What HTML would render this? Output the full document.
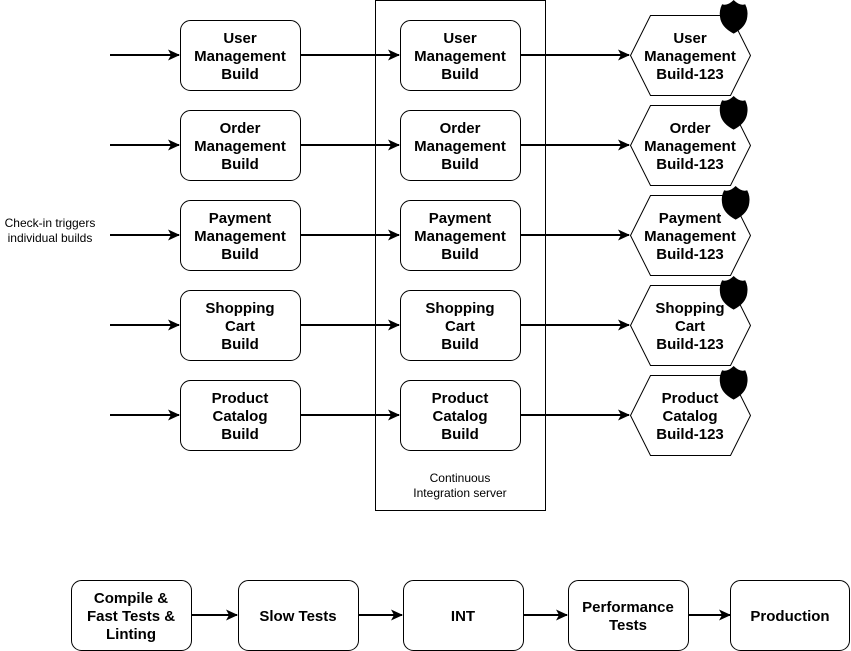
<!DOCTYPE html>
<html><head><meta charset="utf-8"><style>
body{margin:0;background:#fff}
svg{display:block}
text{font-family:"Liberation Sans",Arial,sans-serif}
.b{font-size:15px;font-weight:bold;text-anchor:middle}
.s{font-size:12px;text-anchor:middle}
</style></head><body>
<svg width="851" height="651" viewBox="0 0 851 651">
<defs><marker id="a" markerWidth="12" markerHeight="12" refX="11" refY="6" orient="auto" markerUnits="userSpaceOnUse"><path d="M0,0.5 L12,6 L0,11.5 L3,6 Z" fill="#000"/></marker>
<g id="sh"><path d="M2,4 Q7,6 13,0 Q19,6 24,4 Q27,10 26,16 Q25,26 13,32 Q1,26 0,16 Q-1,10 2,4Z" fill="#000" transform="scale(1.05)"/></g></defs>
<rect x="375.5" y="0.5" width="170" height="510" fill="none" stroke="#000"/>
<text class="s" x="460" y="482">Continuous</text>
<text class="s" x="460" y="497">Integration server</text>
<text class="s" x="50" y="227">Check-in triggers</text>
<text class="s" x="50" y="242">individual builds</text>
<g stroke="#000" stroke-width="2" fill="none">
<line x1="110" y1="55" x2="179" y2="55" marker-end="url(#a)"/><line x1="300" y1="55" x2="399" y2="55" marker-end="url(#a)"/><line x1="520" y1="55" x2="629" y2="55" marker-end="url(#a)"/>
<line x1="110" y1="145" x2="179" y2="145" marker-end="url(#a)"/><line x1="300" y1="145" x2="399" y2="145" marker-end="url(#a)"/><line x1="520" y1="145" x2="629" y2="145" marker-end="url(#a)"/>
<line x1="110" y1="235" x2="179" y2="235" marker-end="url(#a)"/><line x1="300" y1="235" x2="399" y2="235" marker-end="url(#a)"/><line x1="520" y1="235" x2="629" y2="235" marker-end="url(#a)"/>
<line x1="110" y1="325" x2="179" y2="325" marker-end="url(#a)"/><line x1="300" y1="325" x2="399" y2="325" marker-end="url(#a)"/><line x1="520" y1="325" x2="629" y2="325" marker-end="url(#a)"/>
<line x1="110" y1="415" x2="179" y2="415" marker-end="url(#a)"/><line x1="300" y1="415" x2="399" y2="415" marker-end="url(#a)"/><line x1="520" y1="415" x2="629" y2="415" marker-end="url(#a)"/>
<line x1="191" y1="615" x2="237" y2="615" marker-end="url(#a)"/><line x1="358" y1="615" x2="402" y2="615" marker-end="url(#a)"/><line x1="523" y1="615" x2="567" y2="615" marker-end="url(#a)"/><line x1="688" y1="615" x2="730" y2="615" marker-end="url(#a)"/>
</g>
<g fill="#fff" stroke="#000" stroke-width="1">
<rect x="180.5" y="20.5" width="120" height="70" rx="10"/><rect x="400.5" y="20.5" width="120" height="70" rx="10"/>
<rect x="180.5" y="110.5" width="120" height="70" rx="10"/><rect x="400.5" y="110.5" width="120" height="70" rx="10"/>
<rect x="180.5" y="200.5" width="120" height="70" rx="10"/><rect x="400.5" y="200.5" width="120" height="70" rx="10"/>
<rect x="180.5" y="290.5" width="120" height="70" rx="10"/><rect x="400.5" y="290.5" width="120" height="70" rx="10"/>
<rect x="180.5" y="380.5" width="120" height="70" rx="10"/><rect x="400.5" y="380.5" width="120" height="70" rx="10"/>
<path d="M630.5,55.5 L650.5,15.5 L730.5,15.5 L750.5,55.5 L730.5,95.5 L650.5,95.5Z"/>
<path d="M630.5,145.5 L650.5,105.5 L730.5,105.5 L750.5,145.5 L730.5,185.5 L650.5,185.5Z"/>
<path d="M630.5,235.5 L650.5,195.5 L730.5,195.5 L750.5,235.5 L730.5,275.5 L650.5,275.5Z"/>
<path d="M630.5,325.5 L650.5,285.5 L730.5,285.5 L750.5,325.5 L730.5,365.5 L650.5,365.5Z"/>
<path d="M630.5,415.5 L650.5,375.5 L730.5,375.5 L750.5,415.5 L730.5,455.5 L650.5,455.5Z"/>
<rect x="71.5" y="580.5" width="120" height="70" rx="10"/><rect x="238.5" y="580.5" width="120" height="70" rx="10"/><rect x="403.5" y="580.5" width="120" height="70" rx="10"/><rect x="568.5" y="580.5" width="120" height="70" rx="10"/><rect x="730.5" y="580.5" width="119" height="70" rx="10"/>
</g>
<use href="#sh" x="720" y="0"/><use href="#sh" x="720" y="96"/><use href="#sh" x="722" y="186"/><use href="#sh" x="720" y="276"/><use href="#sh" x="720" y="366"/>
<g>
<text class="b" x="240" y="43">User</text><text class="b" x="240" y="61">Management</text><text class="b" x="240" y="79">Build</text>
<text class="b" x="460" y="43">User</text><text class="b" x="460" y="61">Management</text><text class="b" x="460" y="79">Build</text>
<text class="b" x="690" y="43">User</text><text class="b" x="690" y="61">Management</text><text class="b" x="690" y="79">Build-123</text>
<text class="b" x="240" y="133">Order</text><text class="b" x="240" y="151">Management</text><text class="b" x="240" y="169">Build</text>
<text class="b" x="460" y="133">Order</text><text class="b" x="460" y="151">Management</text><text class="b" x="460" y="169">Build</text>
<text class="b" x="690" y="133">Order</text><text class="b" x="690" y="151">Management</text><text class="b" x="690" y="169">Build-123</text>
<text class="b" x="240" y="223">Payment</text><text class="b" x="240" y="241">Management</text><text class="b" x="240" y="259">Build</text>
<text class="b" x="460" y="223">Payment</text><text class="b" x="460" y="241">Management</text><text class="b" x="460" y="259">Build</text>
<text class="b" x="690" y="223">Payment</text><text class="b" x="690" y="241">Management</text><text class="b" x="690" y="259">Build-123</text>
<text class="b" x="240" y="313">Shopping</text><text class="b" x="240" y="331">Cart</text><text class="b" x="240" y="349">Build</text>
<text class="b" x="460" y="313">Shopping</text><text class="b" x="460" y="331">Cart</text><text class="b" x="460" y="349">Build</text>
<text class="b" x="690" y="313">Shopping</text><text class="b" x="690" y="331">Cart</text><text class="b" x="690" y="349">Build-123</text>
<text class="b" x="240" y="403">Product</text><text class="b" x="240" y="421">Catalog</text><text class="b" x="240" y="439">Build</text>
<text class="b" x="460" y="403">Product</text><text class="b" x="460" y="421">Catalog</text><text class="b" x="460" y="439">Build</text>
<text class="b" x="690" y="403">Product</text><text class="b" x="690" y="421">Catalog</text><text class="b" x="690" y="439">Build-123</text>
<text class="b" x="131" y="603">Compile &amp;</text><text class="b" x="131" y="621">Fast Tests &amp;</text><text class="b" x="131" y="639">Linting</text>
<text class="b" x="298" y="621">Slow Tests</text>
<text class="b" x="463" y="621">INT</text>
<text class="b" x="628" y="612">Performance</text><text class="b" x="628" y="630">Tests</text>
<text class="b" x="790" y="621">Production</text>
</g>
</svg>
</body></html>
